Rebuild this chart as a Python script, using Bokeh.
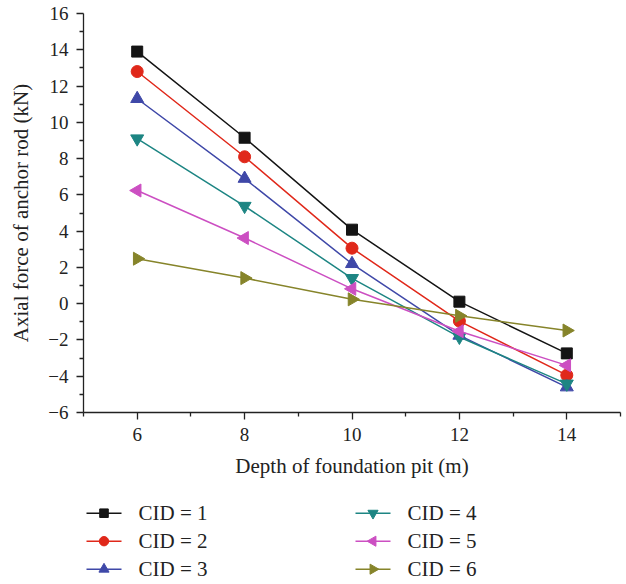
from bokeh.plotting import figure
from bokeh.models import Range1d, FixedTicker, CustomJSTickFormatter
from bokeh.layouts import column
from bokeh.core.properties import value
from bokeh.embed import file_html
from bokeh.resources import INLINE
import math

depth = [6, 8, 10, 12, 14]
cid1 = [13.9, 9.15, 4.08, 0.11, -2.74]
cid2 = [12.8, 8.1, 3.06, -0.96, -3.94]
cid3 = [11.3, 6.9, 2.2, -1.75, -4.6]
cid4 = [9.1, 5.38, 1.4, -1.84, -4.42]
cid5 = [6.24, 3.62, 0.82, -1.52, -3.4]
cid6 = [2.48, 1.41, 0.24, -0.67, -1.48]
labels = ["CID = 1", "CID = 2", "CID = 3", "CID = 4", "CID = 5", "CID = 6"]
x_ticks = [6, 8, 10, 12, 14]
y_ticks = [-6, -4, -2, 0, 2, 4, 6, 8, 10, 12, 14, 16]

series = [cid1, cid2, cid3, cid4, cid5, cid6]
colors = ["#141414", "#e0281a", "#3f48a8", "#1d8583", "#cc4fc2", "#86842a"]
markers = ["square", "circle", "triangle", "inverted_triangle", "triangle", "triangle"]
angles = [0, 0, 0, 0, math.pi / 2, -math.pi / 2]
sizes = [11, 12, 13, 13, 13, 13]

FONT = "Liberation Serif"
INK = "#222222"

p = figure(width=626, height=500, output_backend="svg", toolbar_location=None,
           x_range=Range1d(5, 15), y_range=Range1d(-6, 16),
           min_border_left=83, min_border_right=6, min_border_top=13, min_border_bottom=88)
p.outline_line_color = None
p.xgrid.grid_line_color = None
p.ygrid.grid_line_color = None

p.xaxis.ticker = FixedTicker(ticks=x_ticks, minor_ticks=[5, 7, 9, 11, 13, 15])
p.yaxis.ticker = FixedTicker(ticks=y_ticks, minor_ticks=[-5, -3, -1, 1, 3, 5, 7, 9, 11, 13, 15])
fmt = CustomJSTickFormatter(code="return tick < 0 ? '\u2212' + Math.abs(tick) : String(tick);")
p.yaxis.formatter = fmt
p.xaxis.formatter = fmt

for ax in [p.xaxis, p.yaxis]:
    ax.axis_line_color = INK
    ax.axis_line_width = 1.3
    ax.major_tick_line_color = INK
    ax.minor_tick_line_color = INK
    ax.major_tick_line_width = 1.3
    ax.minor_tick_line_width = 1.3
    ax.major_tick_out = 7
    ax.major_tick_in = 0
    ax.minor_tick_out = 4
    ax.minor_tick_in = 0
    ax.major_label_text_font = FONT
    ax.major_label_text_font_size = "19px"
    ax.major_label_text_color = INK
    ax.axis_label_text_font = FONT
    ax.axis_label_text_font_size = "21px"
    ax.axis_label_text_font_style = "normal"
    ax.axis_label_text_color = INK
    ax.major_label_standoff = 8

p.xaxis.axis_label = "Depth of foundation pit (m)"
p.yaxis.axis_label = "Axial force of anchor rod (kN)"
p.xaxis.axis_label_standoff = 10
p.yaxis.axis_label_standoff = 12

for ys, c, m, a, s in zip(series, colors, markers, angles, sizes):
    p.line(depth, ys, line_color=c, line_width=1.5)
    p.scatter(depth, ys, marker=m, size=s, angle=a, fill_color=c, line_color=c)

# legend panel: its frame is aligned with the plot frame (x 83..620), y downward in px
LW, LH = 626, 84
leg = figure(width=LW, height=LH, output_backend="svg", toolbar_location=None,
             x_range=Range1d(83, 620), y_range=Range1d(LH, 0),
             x_axis_type=None, y_axis_type=None,
             min_border_left=83, min_border_right=6, min_border_top=0, min_border_bottom=0)
leg.outline_line_color = None
leg.xgrid.grid_line_color = None
leg.ygrid.grid_line_color = None

col_x = [86, 355]
row_h = 28
row0 = 12.7
sample_w = 35
for i, (lab, c, m, a, s) in enumerate(zip(labels, colors, markers, angles, sizes)):
    x0 = col_x[i // 3]
    yy = row0 + row_h * (i % 3)
    leg.line([x0, x0 + sample_w], [yy, yy], line_color=c, line_width=1.5)
    leg.scatter([x0 + sample_w / 2], [yy], marker=m, size=s * 0.78, angle=a,
                fill_color=c, line_color=c)
    leg.text([x0 + sample_w + 17], [yy], text=[lab], text_font=value(FONT),
             text_font_size=value("21px"), text_color=INK, text_baseline="middle",
             text_align="left")

layout = column(p, leg, spacing=0)
open("out.html", "w").write(file_html(layout, INLINE))
